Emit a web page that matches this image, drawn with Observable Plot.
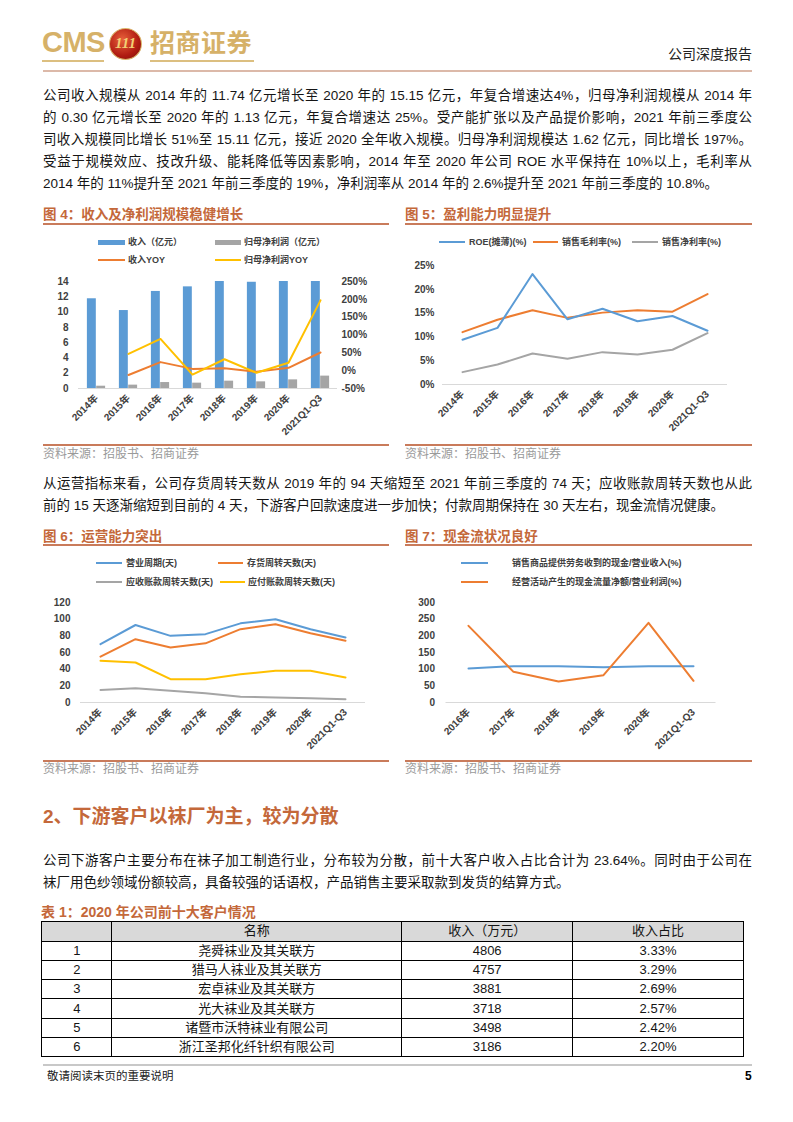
<!DOCTYPE html>
<html><head><meta charset="utf-8">
<script src="https://cdn.jsdelivr.net/npm/d3@7"></script>
<script src="https://cdn.jsdelivr.net/npm/@observablehq/plot@0.6"></script>
<style>
body{margin:0;background:#fff;}
#page{position:relative;width:793px;height:1122px;overflow:hidden;font-family:"Liberation Sans","Noto Sans CJK SC",sans-serif;color:#151515;background:#fff;}
.abs{position:absolute;}
.line{position:absolute;left:43px;width:709px;height:22px;line-height:22px;font-size:13.5px;}
.just{text-align:justify;text-align-last:justify;}
.figtitle{position:absolute;font-size:13.5px;font-weight:bold;color:#c4683a;line-height:16px;white-space:nowrap;}
.rule{position:absolute;height:2px;background:#c97b5b;}
.src{position:absolute;font-size:12px;color:#9a9a9a;line-height:14px;white-space:nowrap;}
.leg{position:absolute;font-size:9px;font-weight:bold;color:#404040;line-height:12px;white-space:nowrap;}
.sw{position:absolute;}
table{border-collapse:collapse;}
td{border:1.5px solid #000;text-align:center;padding:0;font-size:13px;line-height:16px;}
</style></head>
<body><div id="page"></div>
<script>
// ---------- data ----------
const years = ["2014年","2015年","2016年","2017年","2018年","2019年","2020年","2021Q1-Q3"];
const revenue = [11.74, 10.2, 12.7, 13.3, 14.3, 13.9, 15.15, 15.11];
const netProfit = [0.30, 0.44, 0.78, 0.70, 0.96, 0.87, 1.13, 1.62];
const revenueYoY = [null, -12, 24, 5, 7, -3, 8, 51];
const profitYoY = [null, 47, 89, -11, 32, -6, 22, 197];

const roe = [9.4, 11.9, 23.2, 13.7, 15.9, 13.3, 14.4, 11.3];
const grossMargin = [11.0, 13.6, 15.6, 14.0, 15.1, 15.6, 15.3, 19.0];
const netMargin = [2.6, 4.2, 6.5, 5.4, 6.8, 6.3, 7.3, 10.8];

const opCycle = [70, 93, 80, 82, 95, 100, 88, 78];
const invDays = [55, 76, 66, 71, 88, 94, 83, 74];
const arDays = [15, 17, 14, 11, 7, 6, 5, 4];
const apDays = [50, 48, 28, 28, 34, 38, 38, 30];

const cfYears = ["2016年","2017年","2018年","2019年","2020年","2021Q1-Q3"];
const cashToRevenue = [102, 109, 109, 106, 109, 109];
const ocfToProfit = [230, 92, 63, 82, 239, 65];

const tickLeft4 = [0,2,4,6,8,10,12,14];
const tickRight4 = [-50,0,50,100,150,200,250];
const tick5 = [0,5,10,15,20,25];
const tick6 = [0,20,40,60,80,100,120];
const tick7 = [0,50,100,150,200,250,300];

const tblRank = ["1","2","3","4","5","6"];
const tblName = ["尧舜袜业及其关联方","猎马人袜业及其关联方","宏卓袜业及其关联方","光大袜业及其关联方","诸暨市沃特袜业有限公司","浙江圣邦化纤针织有限公司"];
const tblRevenue = ["4806","4757","3881","3718","3498","3186"];
const tblShare = ["3.33%","3.29%","2.69%","2.57%","2.42%","2.20%"];
const tblHeader = ["","名称","收入（万元）","收入占比"];

const C = {blue:"#5b9bd5", orange:"#ed7d31", gray:"#a5a5a5", yellow:"#ffc000"};

// ---------- helpers ----------
const page = document.getElementById("page");
function el(tag, cls, style, text){
  const e = document.createElement(tag);
  if (cls) e.className = cls;
  Object.assign(e.style, style||{});
  if (text != null) e.textContent = text;
  page.appendChild(e);
  return e;
}
function line(y, text, just){ el("div", "line" + (just ? " just":""), {top:(y-11)+"px"}, text); }
function rows(cats, vals, series){ return cats.map((c,i)=>({cat:c, value:vals[i], series})).filter(d=>d.value!=null); }
function place(svg, left, top){
  const d = el("div","abs",{left:left+"px",top:top+"px"});
  d.appendChild(svg);
}
function legend(items){
  for (const it of items){
    if (it.type === "rect") el("div","sw",{left:it.x+"px",top:(it.y-2.5)+"px",width:it.w+"px",height:"5px",background:it.color});
    else el("div","sw",{left:it.x+"px",top:(it.y-1)+"px",width:it.w+"px",height:"2px",background:it.color});
    el("div","leg",{left:it.tx+"px",top:(it.y-6)+"px"}, it.label);
  }
}
const plotStyle = {fontFamily:'"Liberation Sans","Noto Sans CJK SC",sans-serif', fontSize:"10px", fontWeight:"bold", color:"#404040", background:"transparent", overflow:"visible"};

// ---------- header ----------
el("div","abs",{left:"42px",top:"25px",fontSize:"29px",fontWeight:"bold",color:"#d6b168",fontFamily:'"Liberation Sans"',letterSpacing:"-0.5px",lineHeight:"34px"},"CMS");
el("div","abs",{left:"109px",top:"28px",width:"33px",height:"32px",borderRadius:"50%",background:"radial-gradient(circle at 40% 35%, #e8603a, #b01c12 60%, #7a0e08)",border:"1.5px solid #d9b46a",boxSizing:"border-box"});
el("div","abs",{left:"109px",top:"33px",width:"33px",textAlign:"center",fontSize:"15px",fontWeight:"bold",fontStyle:"italic",color:"#f2cf74",fontFamily:'"Liberation Serif"',lineHeight:"20px"},"111");
el("div","abs",{left:"150px",top:"27px",fontSize:"25px",fontWeight:"bold",color:"#d6b168",lineHeight:"32px",letterSpacing:"0.5px"},"招商证券");
el("div","abs",{left:"42px",top:"60px",width:"62px",height:"2px",background:"#dcbf80"});
el("div","abs",{left:"150px",top:"60px",width:"104px",height:"2px",background:"#dcbf80"});
el("div","abs",{left:"668px",top:"45px",fontSize:"14px",color:"#222",lineHeight:"18px"},"公司深度报告");
el("div","abs",{left:"43px",top:"70px",width:"709px",height:"2px",background:"#dcb9a9"});

// ---------- paragraph 1 ----------
line(96, "公司收入规模从 2014 年的 11.74 亿元增长至 2020 年的 15.15 亿元，年复合增速达4%，归母净利润规模从 2014 年", true);
line(118, "的 0.30 亿元增长至 2020 年的 1.13 亿元，年复合增速达 25%。受产能扩张以及产品提价影响，2021 年前三季度公", true);
line(140, "司收入规模同比增长 51%至 15.11 亿元，接近 2020 全年收入规模。归母净利润规模达 1.62 亿元，同比增长 197%。", true);
line(162, "受益于规模效应、技改升级、能耗降低等因素影响，2014 年至 2020 年公司 ROE 水平保持在 10%以上，毛利率从", true);
line(184, "2014 年的 11%提升至 2021 年前三季度的 19%，净利润率从 2014 年的 2.6%提升至 2021 年前三季度的 10.8%。", false);

// ---------- figure frames ----------
function frame(x, w, yTitle, yRule, yBottom, ySrc, title){
  el("div","figtitle",{left:x+"px",top:(yTitle-8)+"px"}, title);
  el("div","rule",{left:x+"px",top:(yRule-1)+"px",width:w+"px"});
  el("div","rule",{left:x+"px",top:(yBottom-1)+"px",width:w+"px"});
  el("div","src",{left:x+"px",top:(ySrc-7)+"px"}, "资料来源：招股书、招商证券");
}
frame(43, 346, 215, 224, 445, 454, "图 4：收入及净利润规模稳健增长");
frame(405, 347, 215, 224, 445, 454, "图 5：盈利能力明显提升");
frame(43, 346, 537, 545, 761, 769, "图 6：运营能力突出");
frame(405, 347, 537, 545, 761, 769, "图 7：现金流状况良好");

// ---------- middle paragraph ----------
line(484, "从运营指标来看，公司存货周转天数从 2019 年的 94 天缩短至 2021 年前三季度的 74 天；应收账款周转天数也从此", true);
line(506, "前的 15 天逐渐缩短到目前的 4 天，下游客户回款速度进一步加快；付款周期保持在 30 天左右，现金流情况健康。", false);

// ---------- Figure 4 ----------
{
  const W=370,H=170,ML=48,MR=63,MT=11,MB=52;
  const step=(W-ML-MR)/years.length, half=9.3;
  const bars = Plot.plot({width:W,height:H,marginLeft:ML,marginRight:MR,marginTop:MT,marginBottom:MB,style:plotStyle,
    x:{type:"band",domain:years,padding:0,label:null,tickRotate:-45,tickSize:0,tickPadding:8},
    y:{domain:[0,14],clamp:true,label:null,ticks:tickLeft4,tickSize:0,tickPadding:10},
    marks:[
      Plot.barY(rows(years,revenue,"rev"),{x:"cat",y:"value",fill:C.blue,insetLeft:step/2-half,insetRight:step/2}),
      Plot.barY(rows(years,netProfit,"np"),{x:"cat",y:"value",fill:C.gray,insetLeft:step/2,insetRight:step/2-half}),
      Plot.ruleY([0],{stroke:"#d9d9d9"})
    ]});
  place(bars, 30, 270);
  const lines = Plot.plot({width:W,height:H,marginLeft:ML,marginRight:MR,marginTop:MT,marginBottom:MB,style:plotStyle,
    x:{type:"point",domain:years,padding:0.5,axis:null},
    y:{domain:[-50,250],axis:"right",label:null,ticks:tickRight4,tickFormat:d=>d+"%",tickSize:0,tickPadding:4},
    marks:[
      Plot.lineY(rows(years,revenueYoY,"ry"),{x:"cat",y:"value",stroke:C.orange,strokeWidth:2}),
      Plot.lineY(rows(years,profitYoY,"py"),{x:"cat",y:"value",stroke:C.yellow,strokeWidth:2})
    ]});
  place(lines, 30, 270);
  legend([
    {type:"rect",x:98,w:27,y:242,color:C.blue,tx:128,label:"收入（亿元）"},
    {type:"rect",x:215,w:26,y:242,color:C.gray,tx:244,label:"归母净利润（亿元）"},
    {type:"line",x:98,w:27,y:260,color:C.orange,tx:128,label:"收入YOY"},
    {type:"line",x:215,w:26,y:260,color:C.yellow,tx:244,label:"归母净利润YOY"}
  ]);
}

// ---------- Figure 5 ----------
{
  const W=370,H=190,ML=42,MR=43,MT=10,MB=61;
  const p = Plot.plot({width:W,height:H,marginLeft:ML,marginRight:MR,marginTop:MT,marginBottom:MB,style:plotStyle,
    x:{type:"point",domain:years,padding:0.5,label:null,tickRotate:-45,tickSize:0,tickPadding:8},
    y:{domain:[0,25],label:null,ticks:tick5,tickFormat:d=>d+"%",tickSize:0,tickPadding:8},
    marks:[
      Plot.ruleY([0],{stroke:"#d9d9d9"}),
      Plot.lineY(rows(years,netMargin,"nm"),{x:"cat",y:"value",stroke:C.gray,strokeWidth:2}),
      Plot.lineY(rows(years,grossMargin,"gm"),{x:"cat",y:"value",stroke:C.orange,strokeWidth:2}),
      Plot.lineY(rows(years,roe,"roe"),{x:"cat",y:"value",stroke:C.blue,strokeWidth:2})
    ]});
  place(p, 400, 255);
  legend([
    {type:"line",x:439,w:26,y:242,color:C.blue,tx:469,label:"ROE(摊薄)(%)"},
    {type:"line",x:533,w:25,y:242,color:C.orange,tx:562,label:"销售毛利率(%)"},
    {type:"line",x:632,w:26,y:242,color:C.gray,tx:662,label:"销售净利率(%)"}
  ]);
}

// ---------- Figure 6 ----------
{
  const W=370,H=165,ML=50,MR=35,MT=10,MB=55;
  const p = Plot.plot({width:W,height:H,marginLeft:ML,marginRight:MR,marginTop:MT,marginBottom:MB,style:plotStyle,
    x:{type:"point",domain:years,padding:0.5,label:null,tickRotate:-45,tickSize:0,tickPadding:8},
    y:{domain:[0,120],label:null,ticks:tick6,tickSize:0,tickPadding:10},
    marks:[
      Plot.ruleY([0],{stroke:"#d9d9d9"}),
      Plot.lineY(rows(years,arDays,"ar"),{x:"cat",y:"value",stroke:C.gray,strokeWidth:2}),
      Plot.lineY(rows(years,apDays,"ap"),{x:"cat",y:"value",stroke:C.yellow,strokeWidth:2}),
      Plot.lineY(rows(years,invDays,"inv"),{x:"cat",y:"value",stroke:C.orange,strokeWidth:2}),
      Plot.lineY(rows(years,opCycle,"op"),{x:"cat",y:"value",stroke:C.blue,strokeWidth:2})
    ]});
  place(p, 30, 592);
  legend([
    {type:"line",x:96,w:26,y:563,color:C.blue,tx:126,label:"营业周期(天)"},
    {type:"line",x:218,w:25,y:563,color:C.orange,tx:247,label:"存货周转天数(天)"},
    {type:"line",x:96,w:26,y:582,color:C.gray,tx:126,label:"应收账款周转天数(天)"},
    {type:"line",x:220,w:25,y:582,color:C.yellow,tx:248,label:"应付账款周转天数(天)"}
  ]);
}

// ---------- Figure 7 ----------
{
  const W=370,H=165,ML=45.5,MR=54.5,MT=10,MB=55;
  const p = Plot.plot({width:W,height:H,marginLeft:ML,marginRight:MR,marginTop:MT,marginBottom:MB,style:plotStyle,
    x:{type:"point",domain:cfYears,padding:0.5,label:null,tickRotate:-45,tickSize:0,tickPadding:8},
    y:{domain:[0,300],label:null,ticks:tick7,tickSize:0,tickPadding:11},
    marks:[
      Plot.ruleY([0],{stroke:"#d9d9d9"}),
      Plot.lineY(rows(cfYears,cashToRevenue,"c"),{x:"cat",y:"value",stroke:C.blue,strokeWidth:2}),
      Plot.lineY(rows(cfYears,ocfToProfit,"o"),{x:"cat",y:"value",stroke:C.orange,strokeWidth:2})
    ]});
  place(p, 400, 592);
  legend([
    {type:"line",x:461,w:27,y:563,color:C.blue,tx:512,label:"销售商品提供劳务收到的现金/营业收入(%)"},
    {type:"line",x:461,w:27,y:582,color:C.orange,tx:512,label:"经营活动产生的现金流量净额/营业利润(%)"}
  ]);
}

// ---------- section 2 ----------
el("div","abs",{left:"43px",top:"805px",fontSize:"19px",fontWeight:"bold",color:"#c4683a",lineHeight:"24px",whiteSpace:"nowrap"},"2、下游客户以袜厂为主，较为分散");
line(861, "公司下游客户主要分布在袜子加工制造行业，分布较为分散，前十大客户收入占比合计为 23.64%。同时由于公司在", true);
line(883, "袜厂用色纱领域份额较高，具备较强的话语权，产品销售主要采取款到发货的结算方式。", false);
el("div","figtitle",{left:"41px",top:"904px",fontSize:"14px"},"表 1：2020 年公司前十大客户情况");

// table
{
  const t = el("table","",{position:"absolute",left:"41px",top:"921px",width:"703px"});
  const widths=[70,291,171,171];
  const hr = document.createElement("tr"); hr.style.height="19.5px"; hr.style.background="#d9d9d9";
  tblHeader.forEach((h,i)=>{const td=document.createElement("td"); td.style.width=widths[i]+"px"; td.textContent=h; hr.appendChild(td);});
  t.appendChild(hr);
  tblRank.forEach((r,i)=>{
    const tr=document.createElement("tr"); tr.style.height="19.3px";
    [r, tblName[i], tblRevenue[i], tblShare[i]].forEach(v=>{const td=document.createElement("td"); td.textContent=v; tr.appendChild(td);});
    t.appendChild(tr);
  });
}

// footer
el("div","abs",{left:"43px",top:"1064px",width:"709px",height:"2px",background:"#c8c8c8"});
el("div","abs",{left:"47px",top:"1069px",fontSize:"11.5px",color:"#222",lineHeight:"15px"},"敬请阅读末页的重要说明");
el("div","abs",{left:"745px",top:"1069px",fontSize:"12px",fontWeight:"bold",color:"#000",lineHeight:"15px"},"5");
</script>
</body></html>
